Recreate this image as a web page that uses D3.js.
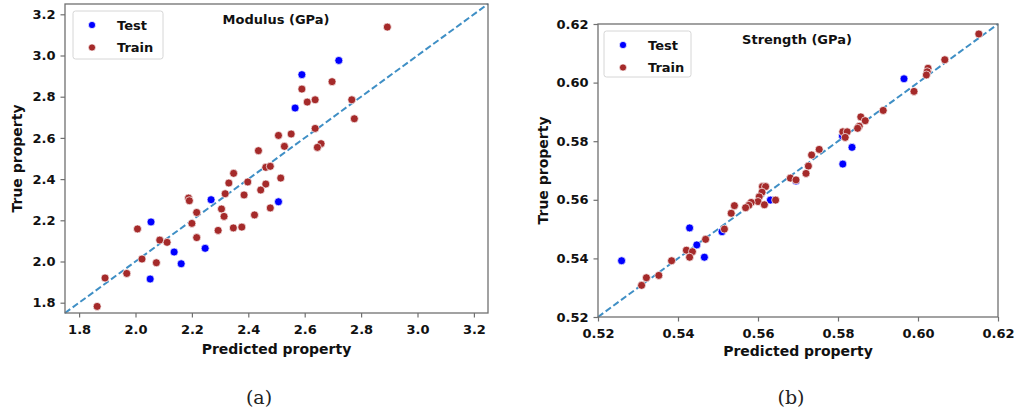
<!DOCTYPE html>
<html><head><meta charset="utf-8">
<script src="https://cdn.jsdelivr.net/npm/d3@7/dist/d3.min.js"></script>
<style>body{margin:0;background:#fff}svg{display:block}text{font-family:"DejaVu Sans",sans-serif}</style>
</head><body><svg id="c" width="1016" height="415"></svg>
<script>
// Panel (a): Modulus (GPa)
const modTestPred = [2.721,2.590,2.566,2.268,2.507,2.055,2.247,2.137,2.162,2.052];
const modTestTrue = [2.976,2.907,2.745,2.300,2.290,2.192,2.064,2.046,1.989,1.915];
const modTrainPred = [2.893,2.697,2.590,2.609,2.637,2.767,2.776,2.637,2.507,2.552,2.528,2.658,2.645,2.436,2.462,2.478,2.348,2.331,2.398,2.462,2.515,2.444,2.318,2.385,2.188,2.191,2.305,2.217,2.314,2.478,2.422,2.200,2.007,2.293,2.347,2.377,2.217,2.086,2.112,2.023,2.074,1.969,1.892,1.864];
const modTrainTrue = [3.138,2.873,2.837,2.774,2.785,2.785,2.693,2.646,2.612,2.619,2.559,2.572,2.554,2.538,2.457,2.462,2.428,2.381,2.386,2.376,2.405,2.347,2.329,2.323,2.308,2.295,2.255,2.238,2.219,2.260,2.226,2.185,2.158,2.151,2.163,2.167,2.116,2.104,2.093,2.012,1.994,1.942,1.920,1.782];
const modDomain = [1.75, 3.25];
const modTicks = [1.8,2.0,2.2,2.4,2.6,2.8,3.0,3.2];

// Panel (b): Strength (GPa)
const strTestPred = [0.5965,0.5835,0.5812,0.5811,0.5631,0.5429,0.5510,0.5447,0.5466,0.5259,0.5695];
const strTestTrue = [0.6013,0.5779,0.5722,0.5818,0.5599,0.5504,0.5491,0.5446,0.5404,0.5392,0.5664];
const strTrainPred = [0.6152,0.6067,0.6025,0.6023,0.6021,0.5990,0.5913,0.5857,0.5868,0.5853,0.5849,0.5812,0.5823,0.5818,0.5753,0.5734,0.5726,0.5720,0.5681,0.5695,0.5611,0.5619,0.5610,0.5603,0.5600,0.5616,0.5644,0.5583,0.5577,0.5569,0.5541,0.5533,0.5516,0.5469,0.5421,0.5436,0.5429,0.5384,0.5352,0.5321,0.5309];
const strTrainTrue = [0.6166,0.6078,0.6049,0.6037,0.6026,0.5970,0.5905,0.5883,0.5870,0.5851,0.5844,0.5832,0.5832,0.5813,0.5772,0.5753,0.5715,0.5690,0.5674,0.5668,0.5645,0.5645,0.5626,0.5610,0.5594,0.5583,0.5599,0.5591,0.5581,0.5573,0.5580,0.5554,0.5500,0.5465,0.5428,0.5423,0.5404,0.5392,0.5342,0.5334,0.5308];
const strDomain = [0.52, 0.62];
const strTicks = [0.52,0.54,0.56,0.58,0.60,0.62];

const seriesNames = ["Test","Train"];
const seriesColors = ["#0000ff","#a52a2a"];

const svg = d3.select("#c");

function panel(cfg){
  const g = svg.append("g");
  const x = d3.scaleLinear().domain(cfg.domain).range([cfg.left, cfg.right]);
  const y = d3.scaleLinear().domain(cfg.domain).range([cfg.bottom, cfg.top]);
  const frame = "#707070";
  g.append("line")
    .attr("x1", x(cfg.domain[0])).attr("y1", y(cfg.domain[0]))
    .attr("x2", x(cfg.domain[1])).attr("y2", y(cfg.domain[1]))
    .attr("stroke", "#3f8fc5").attr("stroke-width", 2).attr("stroke-dasharray", "6.5,3");
  const test = cfg.testP.map((p,i)=>({p, t:cfg.testT[i]}));
  const train = cfg.trainP.map((p,i)=>({p, t:cfg.trainT[i]}));
  [test, train].forEach((d, k)=>{
    g.append("g").selectAll("circle").data(d).join("circle")
      .attr("cx", v=>x(v.p)).attr("cy", v=>y(v.t)).attr("r", 4)
      .attr("fill", seriesColors[k]).attr("stroke", "#fff").attr("stroke-width", 0.7);
  });
  g.append("rect").attr("x", cfg.left).attr("y", cfg.top)
    .attr("width", cfg.right-cfg.left).attr("height", cfg.bottom-cfg.top)
    .attr("fill","none").attr("stroke", frame).attr("stroke-width", 1.3);
  const ax = g.append("g").attr("transform", `translate(0,${cfg.bottom})`)
    .call(d3.axisBottom(x).tickValues(cfg.ticks).tickFormat(d3.format(cfg.fmt)).tickSize(4.5).tickPadding(4));
  const ay = g.append("g").attr("transform", `translate(${cfg.left},0)`)
    .call(d3.axisLeft(y).tickValues(cfg.ticks).tickFormat(d3.format(cfg.fmt)).tickSize(4.5).tickPadding(5));
  [ax, ay].forEach(a=>{
    a.select(".domain").remove();
    a.selectAll(".tick line").attr("stroke", frame).attr("stroke-width", 1.2);
    a.selectAll(".tick text").attr("fill","#111").style("font-size","13px").style("font-weight","bold")
      .style("font-family","DejaVu Sans");
  });
  ax.selectAll(".tick text").attr("dy", "0.95em");
  const cx = (cfg.left+cfg.right)/2, cy = (cfg.top+cfg.bottom)/2;
  g.append("text").attr("x", cx).attr("y", cfg.xlabelY).attr("text-anchor","middle")
    .style("font-size","14px").style("font-weight","bold").attr("fill","#111").text("Predicted property");
  g.append("text").attr("transform", `translate(${cfg.ylabelX},${cy}) rotate(-90)`).attr("text-anchor","middle")
    .style("font-size","14px").style("font-weight","bold").attr("fill","#111").text("True property");
  g.append("text").attr("x", cfg.titleX).attr("y", cfg.titleY).attr("text-anchor","middle")
    .style("font-size","13px").style("font-weight","bold").attr("fill","#111").text(cfg.title);
  const L = cfg.legend;
  g.append("rect").attr("x", L.x).attr("y", L.y).attr("width", L.w).attr("height", L.h)
    .attr("rx", 2.5).attr("fill","#fff").attr("fill-opacity",0.85).attr("stroke","#d6d6d6").attr("stroke-width",1);
  seriesNames.forEach((n,i)=>{
    const yy = L.y + 14 + i*22.5;
    g.append("circle").attr("cx", L.x+19).attr("cy", yy).attr("r", 3.6)
      .attr("fill", seriesColors[i]).attr("stroke","#fff").attr("stroke-width",0.7);
    g.append("text").attr("x", L.x+44).attr("y", yy+4.5)
      .style("font-size","13px").style("font-weight","bold").attr("fill","#111").text(n);
  });
  g.append("text").attr("x", cfg.capX).attr("y", 404).attr("text-anchor","middle")
    .style("font-family","'DejaVu Serif',serif").style("font-size","19px").attr("fill","#222").text(cfg.caption);
}

panel({domain:modDomain, ticks:modTicks, fmt:".1f", left:65, right:488, top:4, bottom:313,
  testP:modTestPred, testT:modTestTrue, trainP:modTrainPred, trainT:modTrainTrue,
  title:"Modulus (GPa)", titleX:276, titleY:24, xlabelY:354, ylabelX:22,
  legend:{x:73,y:11,w:90,h:48}, caption:"(a)", capX:259});
panel({domain:strDomain, ticks:strTicks, fmt:".2f", left:598, right:998, top:24, bottom:317,
  testP:strTestPred, testT:strTestTrue, trainP:strTrainPred, trainT:strTrainTrue,
  title:"Strength (GPa)", titleX:797, titleY:44, xlabelY:356, ylabelX:548,
  legend:{x:604,y:31,w:87,h:46}, caption:"(b)", capX:791});
</script></body></html>
